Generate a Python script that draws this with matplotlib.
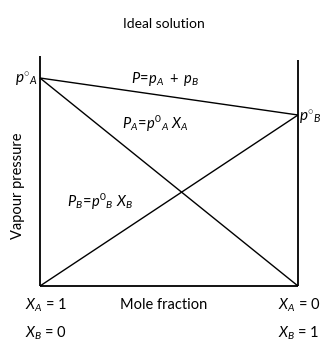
import matplotlib
matplotlib.use("Agg")
import matplotlib.pyplot as plt

plt.rcParams['font.family'] = ['Lato', 'DejaVu Sans']
plt.rcParams['mathtext.fontset'] = 'custom'
plt.rcParams['mathtext.rm'] = 'Lato'
plt.rcParams['mathtext.it'] = 'Lato:italic'
plt.rcParams['mathtext.bf'] = 'Lato:bold'

# Data (arbitrary pressure units)
x_B = [0, 1]            # mole fraction of B
pA0 = 208               # vapour pressure of pure A
pB0 = 171               # vapour pressure of pure B
p_A = [pA0, 0]
p_B = [0, pB0]
P_total = [pA0, pB0]
left_top = 230
right_top = 226

W, H = 328, 341
fig = plt.figure(figsize=(W / 100, H / 100), dpi=100)
ax = fig.add_axes([40 / W, (H - 286) / H, 258 / W, 230 / H])
ax.set_xlim(0, 1)
ax.set_ylim(0, 230)
ax.axis('off')

kw = dict(color='black', clip_on=False, solid_capstyle='butt')
ax.plot([0, 0], [0, left_top], lw=1.3, **kw)
ax.plot([1, 1], [0, right_top], lw=1.3, **kw)
ax.plot([0, 1], [0, 0], lw=1.3, **kw)
ax.plot(x_B, P_total, lw=1.0, **kw)
ax.plot(x_B, p_A, lw=1.0, **kw)
ax.plot(x_B, p_B, lw=1.0, **kw)

def px(x, y, s, ha='center', va='center', size=10, **k):
    fig.text(x / W, 1 - y / H, s, ha=ha, va=va, fontsize=size, **k)

px(164, 24, 'Ideal solution', size=10)
px(38, 79, r'$p^{\circ}{}_{A}$', ha='right', size=11)
px(299, 117, r'$p^{\circ}{}_{B}$', ha='left', size=11)
px(165, 79, r'$P\!=\!p_{A}\ +\ p_{B}$', size=10.5)
px(155, 124, r'$P_{A}\!=\!p^{0}{}_{A}\ X_{A}$', size=10.5)
px(100, 202, r'$P_{B}\!=\!p^{0}{}_{B}\ X_{B}$', size=10.5)
px(18, 186, 'Vapour pressure', rotation=90, size=10.5)
px(164, 305, 'Mole fraction', size=10.5)
px(25, 305, r'$X_{A}$ = 1', ha='left', size=10.5)
px(278, 305, r'$X_{A}$ = 0', ha='left', size=10.5)
px(25, 333, r'$X_{B}$ = 0', ha='left', size=10.5)
px(278, 333, r'$X_{B}$ = 1', ha='left', size=10.5)

fig.savefig('out.png', dpi=100)
